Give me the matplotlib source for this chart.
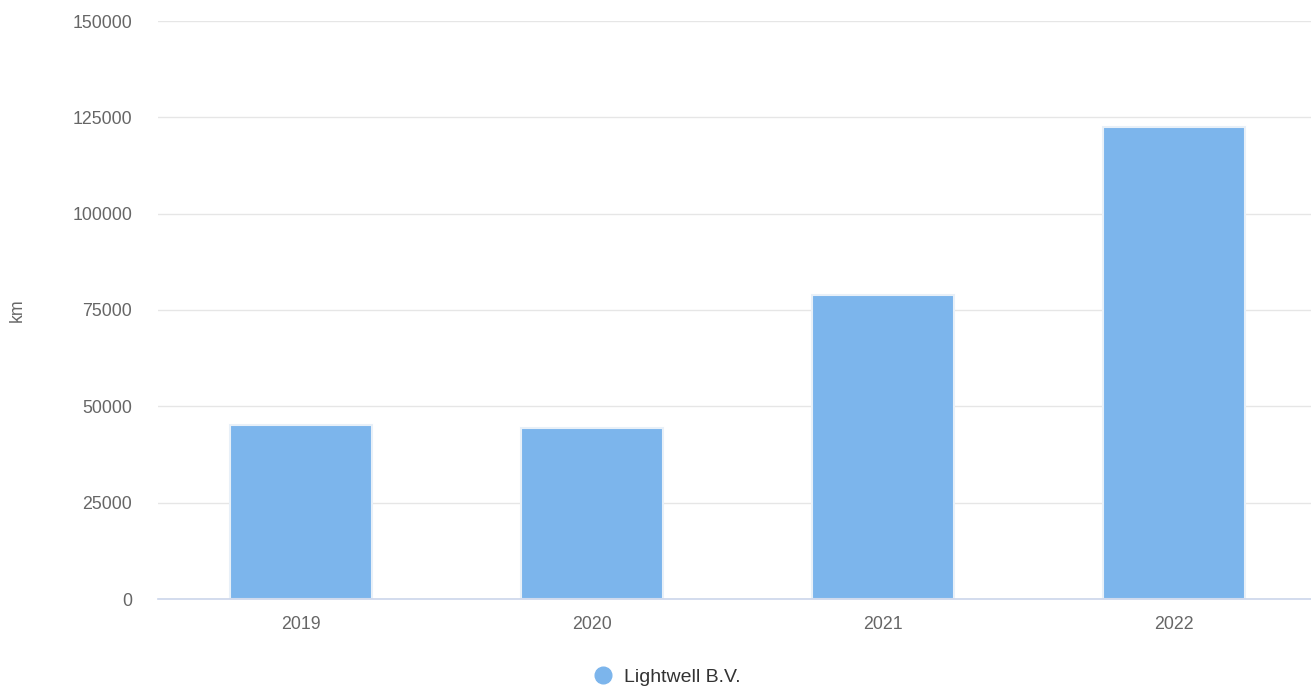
import matplotlib.pyplot as plt
from matplotlib.lines import Line2D

# donnees
annees = ["2019", "2020", "2021", "2022"]
distances_km = [45200, 44300, 78800, 122500]
graduations = [0, 25000, 50000, 75000, 100000, 125000, 150000]
serie = "Lightwell B.V."

plt.rcParams['font.family'] = ['Liberation Sans', 'DejaVu Sans']

fig = plt.figure(figsize=(13.11, 6.88), dpi=100)
ax = fig.add_axes([158 / 1311, 1 - 599 / 688, 1 - 158 / 1311, (599 - 21) / 688])

x = range(len(annees))
ax.bar(x, distances_km, width=0.485, color="#7cb5ec", edgecolor="#e8f0f8",
       linewidth=1.5, zorder=3)

# pas de 291 px entre categories, premiere au pixel 301
pas = 291 / 1153
xmin = -(301 - 158) / 291
ax.set_xlim(xmin, xmin + 1 / pas)
ax.set_ylim(0, 150000)
ax.set_yticks(graduations)
ax.set_yticklabels([str(g) for g in graduations])
ax.set_xticks(list(x))
ax.set_xticklabels(annees)

ax.grid(axis="y", color="#e6e6e6", linewidth=1, zorder=0)
for s in ["top", "right", "left"]:
    ax.spines[s].set_visible(False)
ax.spines["bottom"].set_color("#ccd6eb")
ax.spines["bottom"].set_linewidth(1.2)
ax.spines["bottom"].set_zorder(4)

ax.tick_params(axis="y", length=0, pad=18.5, labelsize=12.8, labelcolor="#666666")
ax.tick_params(axis="x", length=0, pad=12.5, labelsize=12.8, labelcolor="#666666")

ax.set_ylabel("km", fontsize=12.8, color="#666666", labelpad=0)
ax.yaxis.set_label_coords(-132 / 1153, 0.5)

poignee = Line2D([], [], marker="o", linestyle="", markersize=12,
                 markerfacecolor="#7cb5ec", markeredgecolor="#7cb5ec")
fig.legend([poignee], [serie], loc="center", bbox_to_anchor=(667 / 1311, 1 - 677 / 688),
           frameon=False, fontsize=14, labelcolor="#333333", handletextpad=0.6,
           handlelength=1.0)

plt.savefig("out.png", dpi=100)
